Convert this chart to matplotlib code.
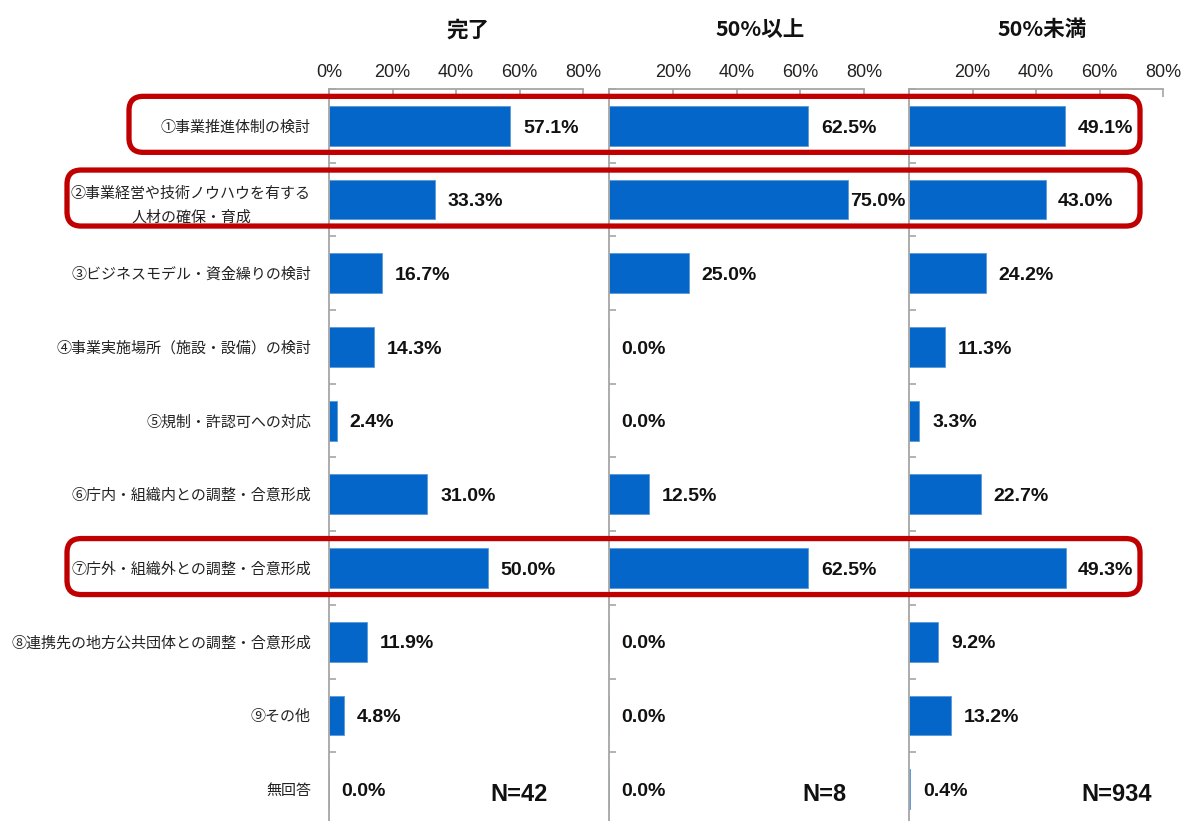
import numpy as np
import matplotlib.pyplot as plt
from matplotlib.patches import FancyBboxPatch

categories = [
    "①事業推進体制の検討",
    "②事業経営や技術ノウハウを有する\n人材の確保・育成",
    "③ビジネスモデル・資金繰りの検討",
    "④事業実施場所（施設・設備）の検討",
    "⑤規制・許認可への対応",
    "⑥庁内・組織内との調整・合意形成",
    "⑦庁外・組織外との調整・合意形成",
    "⑧連携先の地方公共団体との調整・合意形成",
    "⑨その他",
    "無回答",
]
panel_titles = ["完了", "50%以上", "50%未満"]
sample_sizes = ["N=42", "N=8", "N=934"]
done = [57.1, 33.3, 16.7, 14.3, 2.4, 31.0, 50.0, 11.9, 4.8, 0.0]
over50 = [62.5, 75.0, 25.0, 0.0, 0.0, 12.5, 62.5, 0.0, 0.0, 0.0]
under50 = [49.1, 43.0, 24.2, 11.3, 3.3, 22.7, 49.3, 9.2, 13.2, 0.4]
highlight_rows = [0, 1, 6]

W, H = 1182, 821
BAR = '#0466C8'
GRID = '#A6A6A6'
RED = '#C00000'
JP = ['Noto Sans CJK JP', 'DejaVu Sans']
NUM = ['Liberation Sans', 'Noto Sans CJK JP']

plt.rcParams['font.family'] = JP

def fx(x):
    return x / W

def fy(y):
    return 1 - y / H

fig = plt.figure(figsize=(W / 100, H / 100), dpi=100)

# pixel layout of the three panels (left edge of 0%, right edge of 80%)
panel_px = [(329, 583), (609, 864), (909, 1163)]
top_px, bot_px = 89, 826
title_px = [468, 760, 1042]
n_pos = [0.60, 0.675, 0.655]

y = np.arange(len(categories))
axes = []
for k, (vals, (l, r)) in enumerate(zip([done, over50, under50], panel_px)):
    ax = fig.add_axes([fx(l), fy(bot_px), fx(r - l), (bot_px - top_px) / H])
    axes.append(ax)
    v = np.array(vals) / 100
    ax.barh(y, v, height=0.54, color=BAR, edgecolor='#5B9BD5', linewidth=0.6)
    ax.set_xlim(0, 0.8)
    ax.set_ylim(len(categories) - 0.5, -0.5)
    ax.xaxis.tick_top()
    ax.set_xticks(np.arange(0, 0.81, 0.2))
    labels = [f"{int(round(t * 100))}%" for t in np.arange(0, 0.81, 0.2)]
    if k > 0:
        labels[0] = ""
    ax.set_xticklabels(labels, fontsize=13, family=NUM, color='#222222')
    ax.tick_params(axis='x', direction='in', length=6, color=GRID, width=1.2, pad=6)
    ax.set_yticks(y)
    ax.set_yticks(np.arange(-0.5, len(categories), 1.0), minor=True)
    ax.tick_params(axis='y', which='major', length=0)
    ax.tick_params(axis='y', which='minor', direction='in', length=5, color=GRID, width=1.2)
    if k == 0:
        ax.set_yticklabels(categories, fontsize=10.8, color='#222222', multialignment='center',
                           linespacing=1.8)
        ax.tick_params(axis='y', which='major', pad=13)
    else:
        ax.set_yticklabels([])
    for s in ['right', 'bottom']:
        ax.spines[s].set_visible(False)
    for s in ['top', 'left']:
        ax.spines[s].set_color(GRID)
        ax.spines[s].set_linewidth(1.3)
    ax.set_facecolor('none')
    for i, val in enumerate(v):
        ax.text(min(val + 0.04, 0.755), i + 0.03, f"{vals[i]:.1f}%", va='center', ha='left',
                fontsize=14, fontweight='bold', family=NUM, color='#111111')
    ax.text(n_pos[k], len(categories) - 1 + 0.07, sample_sizes[k], ha='center', va='center',
            fontsize=17, fontweight='bold', family=['Liberation Sans Narrow', 'Liberation Sans'],
            color='#111111')
    fig.text(fx(title_px[k]), fy(30), panel_titles[k], ha='center', va='center',
             fontsize=15.5, fontweight='bold', color='#111111')

# red rounded frames around the highlighted rows
box_left = {0: 129, 1: 67, 6: 67}
box_right = 1140
fig.canvas.draw()
for i in highlight_rows:
    yc = axes[0].transData.transform((0, i))[1] / fig.dpi / fig.get_figheight()
    h = 56 / H
    p = FancyBboxPatch((fx(box_left[i]), yc - h / 2 + 1.5 / H), fx(box_right - box_left[i]), h,
                       boxstyle="round,pad=0,rounding_size=0.012",
                       transform=fig.transFigure, fill=False, edgecolor=RED,
                       linewidth=3.8, zorder=10, mutation_aspect=W / H)
    fig.add_artist(p)

fig.savefig('out.png', dpi=100)
